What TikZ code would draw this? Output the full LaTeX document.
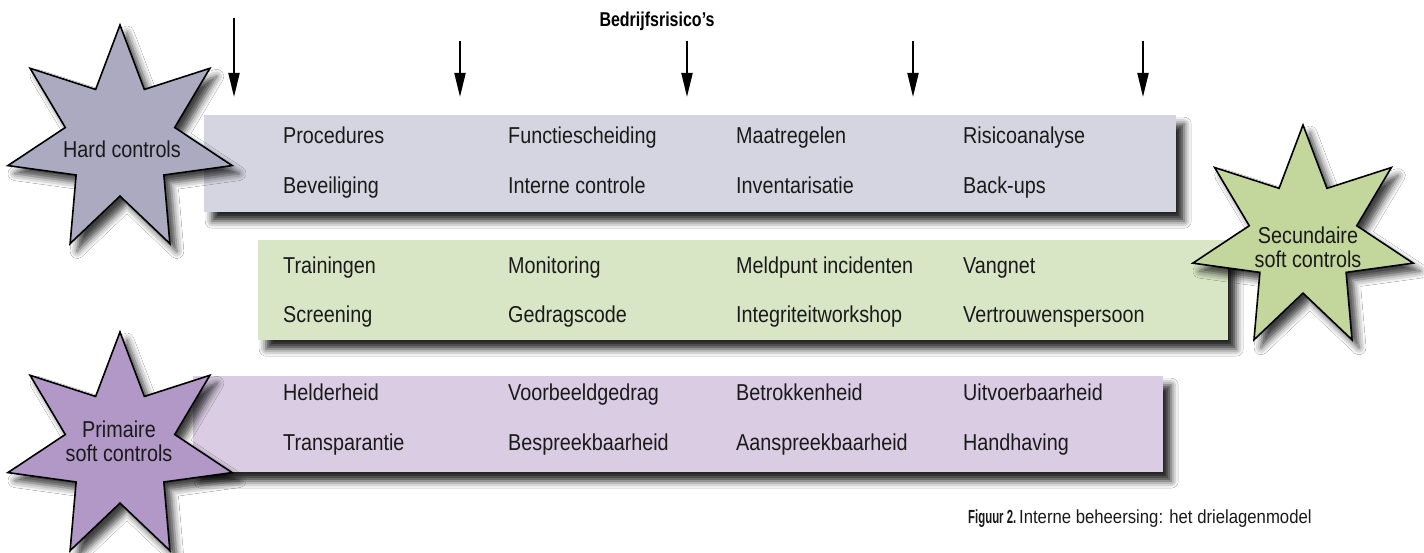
\documentclass[tikz,border=0pt]{standalone}
\usepackage{fontspec}
\setmainfont{Liberation Sans}
\newfontfamily\boxfont[FakeStretch=0.86]{Liberation Sans}
\newfontfamily\titlefont[FakeStretch=0.8]{Liberation Sans}
\newfontfamily\capfont[FakeStretch=0.88]{Liberation Sans}
\newfontfamily\figfont[FakeStretch=0.6]{Liberation Sans}
\usetikzlibrary{shapes.geometric,arrows.meta,shadows.blur}
\definecolor{hardbox}{HTML}{D5D5E1}
\definecolor{hardstar}{HTML}{ABAAC1}
\definecolor{greenbox}{HTML}{D8E6C5}
\definecolor{greenstar}{HTML}{C3D69B}
\definecolor{purplebox}{HTML}{D9CCE3}
\definecolor{purplestar}{HTML}{B198C7}
\definecolor{txt}{HTML}{1A1A1A}
\tikzset{
  layerbox/.style={draw=none, rectangle, inner sep=0pt, anchor=north west,
    blur shadow={shadow xshift=8pt, shadow yshift=-9pt, shadow blur radius=7pt, shadow opacity=85}},
  starshape/.style={star, star points=7, star point ratio=2.05, minimum size=230pt,
    inner sep=0pt, draw=black, line width=1.6pt, line join=miter,
    blur shadow={shadow xshift=7pt, shadow yshift=-8pt, shadow blur radius=7pt, shadow opacity=75}},
  item/.style={anchor=base west, inner sep=0pt, font=\boxfont\fontsize{23}{26}\selectfont, text=txt},
  starlabel/.style={anchor=center, inner sep=0pt, align=center, font=\boxfont\fontsize{23}{24}\selectfont, text=txt},
  riskarrow/.style={line width=2pt, -{Triangle[length=24pt,width=11pt]}}
}
\begin{document}
\begin{tikzpicture}[x=1pt,y=-1pt]
\useasboundingbox[fill=white] (0,0) rectangle (1424,553);

% title
\node[anchor=base, inner sep=0pt, font=\titlefont\bfseries\fontsize{20}{22}\selectfont] (title) at (657,27) {Bedrijfsrisico’s};

% arrows
\coordinate (a1s) at (234,18);  \coordinate (a1e) at (234,97);
\coordinate (a2s) at (460,41);  \coordinate (a2e) at (460,97);
\coordinate (a3s) at (687,41);  \coordinate (a3e) at (687,97);
\coordinate (a4s) at (913,41);  \coordinate (a4e) at (913,97);
\coordinate (a5s) at (1143,41); \coordinate (a5e) at (1143,97);
\foreach \i in {1,...,5} \draw[riskarrow] (a\i s) -- (a\i e);

% layer boxes
\node[layerbox, fill=hardbox, minimum width=972pt, minimum height=97pt] (hard) at (204,115) {};
\node[layerbox, fill=greenbox, minimum width=970pt, minimum height=100pt] (green) at (258,240) {};
\node[layerbox, fill=purplebox, minimum width=970pt, minimum height=96pt] (purple) at (193,376) {};

% hard controls items
\node[item] (h1) at (283,144) {Procedures};
\node[item] (h2) at (508,144) {Functiescheiding};
\node[item] (h3) at (736,144) {Maatregelen};
\node[item] (h4) at (963,144) {Risicoanalyse};
\node[item] (h5) at (283,194) {Beveiliging};
\node[item] (h6) at (508,194) {Interne controle};
\node[item] (h7) at (736,194) {Inventarisatie};
\node[item] (h8) at (963,194) {Back-ups};

% secondary soft controls items
\node[item] (g1) at (283,274) {Trainingen};
\node[item] (g2) at (508,274) {Monitoring};
\node[item] (g3) at (736,274) {Meldpunt incidenten};
\node[item] (g4) at (963,274) {Vangnet};
\node[item] (g5) at (283,323) {Screening};
\node[item] (g6) at (508,323) {Gedragscode};
\node[item] (g7) at (736,323) {Integriteitworkshop};
\node[item] (g8) at (963,323) {Vertrouwenspersoon};

% primary soft controls items
\node[item] (p1) at (283,400) {Helderheid};
\node[item] (p2) at (508,400) {Voorbeeldgedrag};
\node[item] (p3) at (736,400) {Betrokkenheid};
\node[item] (p4) at (963,400) {Uitvoerbaarheid};
\node[item] (p5) at (283,450) {Transparantie};
\node[item] (p6) at (508,450) {Bespreekbaarheid};
\node[item] (p7) at (736,450) {Aanspreekbaarheid};
\node[item] (p8) at (963,450) {Handhaving};

% stars
\node[starshape, fill=hardstar] (starhard) at (120,140) {};
\node[starlabel] (labhard) at (122,149) {Hard controls};
\node[starshape, fill=greenstar, minimum size=226pt] (stargreen) at (1303,238) {};
\node[starlabel] (labgreen) at (1308,247) {Secundaire\\soft controls};
\node[starshape, fill=purplestar] (starpurple) at (120,447) {};
\node[starlabel] (labpurple) at (119,441) {Primaire\\soft controls};

% caption
\node[anchor=base west, inner sep=0pt, text=txt] (caption) at (968,523)
  {{\figfont\bfseries\fontsize{19}{22}\selectfont Figuur 2.}\ {\capfont\fontsize{19}{22}\selectfont Interne beheersing: het drielagenmodel}};
\end{tikzpicture}
\end{document}
